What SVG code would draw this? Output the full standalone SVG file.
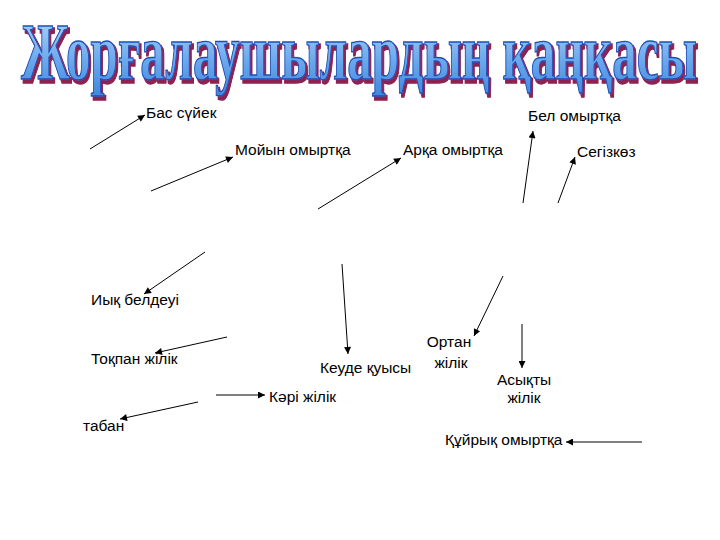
<svg xmlns="http://www.w3.org/2000/svg" width="720" height="540" viewBox="0 0 720 540">
<defs>
<linearGradient id="tg" x1="0" y1="0" x2="0" y2="1">
<stop offset="0" stop-color="#b8dcfc"/>
<stop offset="0.6" stop-color="#6aa8ec"/>
<stop offset="1" stop-color="#3f86dc"/>
</linearGradient>
<filter id="sh" x="-5%" y="-20%" width="110%" height="140%">
<feMorphology in="SourceAlpha" operator="dilate" radius="0.6" result="d"/>
<feOffset in="d" dx="4.5" dy="2.5" result="o"/>
<feFlood flood-color="#8b2050"/>
<feComposite in2="o" operator="in" result="s"/>
<feMerge><feMergeNode in="s"/><feMergeNode in="SourceGraphic"/></feMerge>
</filter>
<marker id="ah" viewBox="0 0 10 10" refX="10" refY="5" markerWidth="8" markerHeight="7" markerUnits="userSpaceOnUse" orient="auto">
<path d="M0,0 L10,5 L0,10 z" fill="#000"/>
</marker>
</defs>
<style>
.lbl{font-family:"Liberation Sans",Arial,sans-serif;font-size:15.5px;fill:#000}
.ctr{text-anchor:middle}
.c line{stroke:#000;stroke-width:1;marker-end:url(#ah)}
.title{font-family:"Liberation Serif","Times New Roman",serif;font-weight:bold;font-size:80px}
</style>
<rect width="720" height="540" fill="#fff"/>
<g id="title" transform="scale(0.5,1)">
<text class="title" x="42" y="79" textLength="1352" lengthAdjust="spacingAndGlyphs" fill="url(#tg)" stroke="#1c4fb8" stroke-width="1.4" filter="url(#sh)">Жорғалаушылардың қаңқасы</text>
</g>
<g class="c" id="connectors">
<line x1="90" y1="149" x2="145" y2="115"/>
<line x1="151" y1="191" x2="233" y2="157"/>
<line x1="318" y1="209" x2="401" y2="158"/>
<line x1="523" y1="203" x2="533" y2="131"/>
<line x1="558" y1="203" x2="575" y2="157"/>
<line x1="205" y1="252" x2="144" y2="294"/>
<line x1="227" y1="337" x2="155" y2="353"/>
<line x1="342" y1="264" x2="348" y2="354"/>
<line x1="503" y1="276" x2="474" y2="336"/>
<line x1="522" y1="324" x2="522" y2="368"/>
<line x1="216" y1="395" x2="265" y2="395"/>
<line x1="198" y1="402" x2="120" y2="419"/>
<line x1="642" y1="442" x2="566" y2="442"/>
</g>
<g id="n-bas"><text class="lbl" x="146" y="118">Бас сүйек</text></g>
<g id="n-moiyn"><text class="lbl" x="235" y="155">Мойын омыртқа</text></g>
<g id="n-arqa"><text class="lbl" x="403" y="155">Арқа омыртқа</text></g>
<g id="n-bel"><text class="lbl" x="528" y="121">Бел омыртқа</text></g>
<g id="n-segizkoz"><text class="lbl" x="577" y="157">Сегізкөз</text></g>
<g id="n-iyq"><text class="lbl" x="91" y="305">Иық белдеуі</text></g>
<g id="n-toqpan"><text class="lbl" x="91" y="364">Тоқпан жілік</text></g>
<g id="n-keude"><text class="lbl" x="320" y="373">Кеуде қуысы</text></g>
<g id="n-ortan"><text class="lbl ctr" x="449" y="347">Ортан</text><text class="lbl ctr" x="451" y="368">жілік</text></g>
<g id="n-asyqty"><text class="lbl ctr" x="524" y="385">Асықты</text><text class="lbl ctr" x="524" y="403">жілік</text></g>
<g id="n-kari"><text class="lbl" x="269" y="402">Кәрі жілік</text></g>
<g id="n-taban"><text class="lbl" x="83" y="431">табан</text></g>
<g id="n-quyryq"><text class="lbl" x="445" y="445">Құйрық омыртқа</text></g>
</svg>
